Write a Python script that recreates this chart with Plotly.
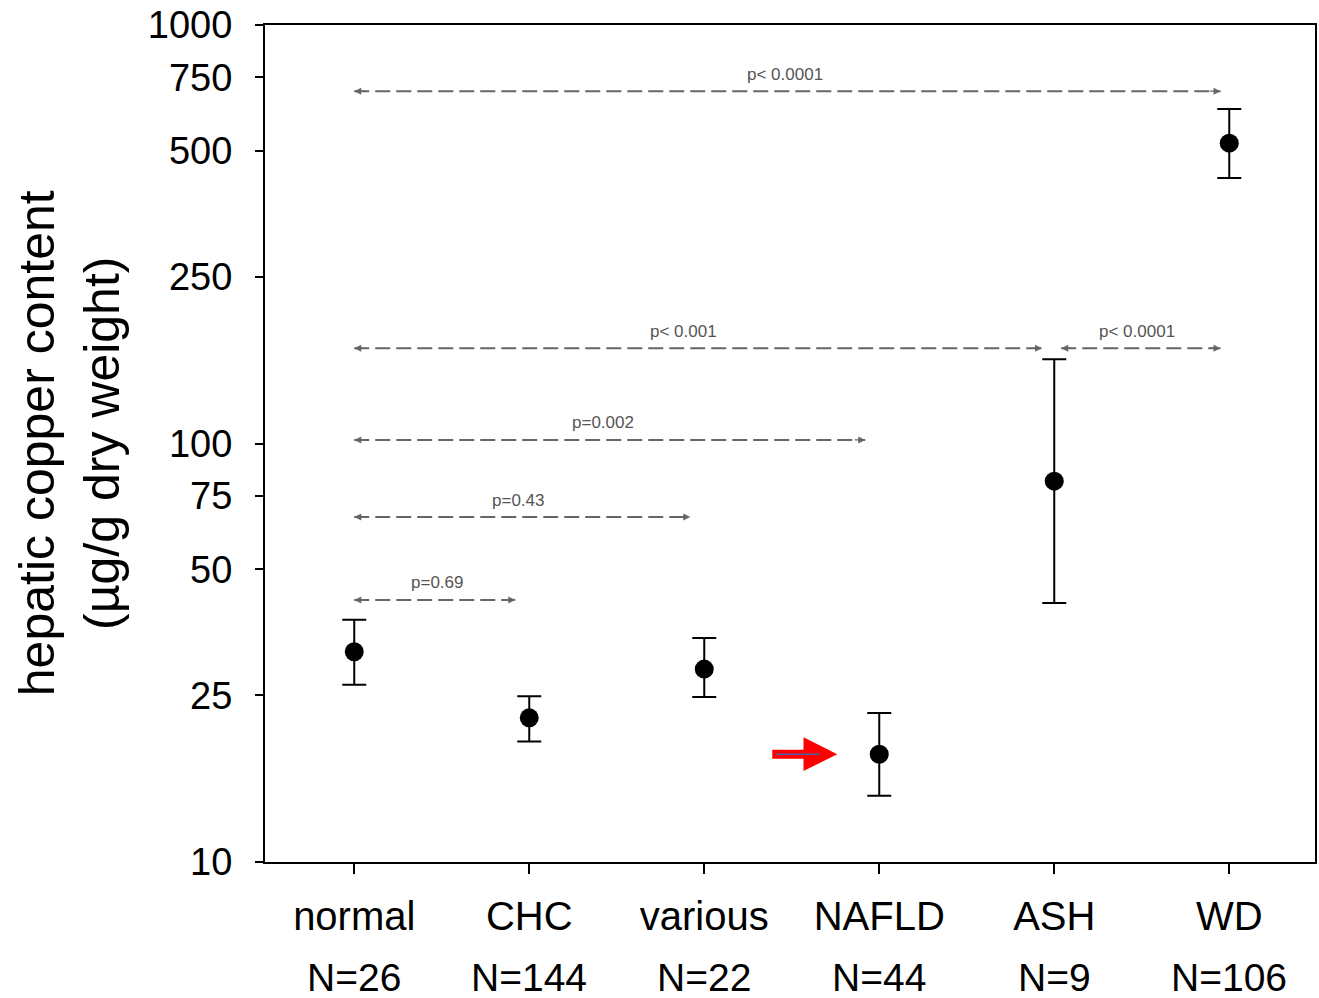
import numpy as np
import plotly.graph_objects as go

# ---- data ----
groups = ["normal", "CHC", "various", "NAFLD", "ASH", "WD"]
n_labels = ["N=26", "N=144", "N=22", "N=44", "N=9", "N=106"]
means = [31.8, 22.1, 28.9, 18.1, 81.3, 522]
upper = [37.9, 24.9, 34.3, 22.7, 159, 630]
lower = [26.5, 19.4, 24.8, 14.4, 41.6, 431]
ytick_vals = [10, 25, 50, 75, 100, 250, 500, 750, 1000]

comp_y = [695, 169, 169, 102, 66.7, 42.3]
comp_x0 = [0, 0, 4.04, 0, 0, 0]
comp_x1 = [4.95, 3.93, 4.95, 2.92, 1.92, 0.92]
comp_labels = ["p< 0.0001", "p< 0.001", "p< 0.0001", "p=0.002", "p=0.43", "p=0.69"]
comp_label_x = [2.46, 1.88, 4.47, 1.42, 0.935, 0.47]

highlight_group = "NAFLD"
highlight_from = 2.38
highlight_to = 2.76

FONT = "Liberation Sans, Arial, sans-serif"
GRAY = "#666666"

xs = list(range(len(groups)))
fig = go.Figure()

# comparison dashed lines
for x0, x1, y in zip(comp_x0, comp_x1, comp_y):
    fig.add_trace(go.Scatter(
        x=[x0, x1], y=[y, y], mode="lines",
        line=dict(color=GRAY, width=2, dash="15px,6px"),
        showlegend=False, hoverinfo="skip"))

# mean +/- error
fig.add_trace(go.Scatter(
    x=xs, y=means, mode="markers",
    marker=dict(size=19, color="black"),
    error_y=dict(type="data", symmetric=False,
                 array=[u - m for u, m in zip(upper, means)],
                 arrayminus=[m - l for m, l in zip(means, lower)],
                 color="black", thickness=2, width=12),
    showlegend=False))

annotations = []
# arrowheads and p labels
for x0, x1, y, lab, lx in zip(comp_x0, comp_x1, comp_y, comp_labels, comp_label_x):
    ly = np.log10(y)
    for xe, off in ((x0, 12), (x1, -12)):
        annotations.append(dict(x=xe, y=ly, xref="x", yref="y", text="",
                                showarrow=True, ax=off, ay=0, arrowhead=2,
                                arrowsize=1, arrowwidth=1.4, arrowcolor=GRAY))
    annotations.append(dict(x=lx, y=ly, xref="x", yref="y", text=lab,
                            showarrow=False, yshift=17,
                            font=dict(family=FONT, size=17, color="#555555")))

# N labels
for i, n in enumerate(n_labels):
    annotations.append(dict(x=i, y=-0.138, xref="x", yref="paper", text=n,
                            showarrow=False, yanchor="middle",
                            font=dict(family=FONT, size=39, color="black")))

# y title
annotations.append(dict(x=-0.186, y=0.5, xref="paper", yref="paper",
                        xanchor="center", yanchor="middle",
                        text="hepatic copper content<br>(µg/g dry weight)",
                        textangle=-90, showarrow=False,
                        font=dict(family=FONT, size=50, color="black")))

# red highlight arrow
hi = groups.index(highlight_group)
hy = np.log10(means[hi])
annotations.append(dict(x=highlight_to, y=hy, xref="x", yref="y",
                        ax=highlight_from, ay=0, axref="x", ayref="pixel",
                        text="", showarrow=True, arrowhead=2, arrowsize=0.75,
                        arrowwidth=9, arrowcolor="red"))
annotations.append(dict(x=highlight_to - 0.1, y=hy, xref="x", yref="y",
                        ax=highlight_from + 0.02, ay=0, axref="x", ayref="pixel",
                        text="", showarrow=True, arrowhead=0,
                        arrowwidth=1.5, arrowcolor="#4a5fb0"))

fig.update_layout(
    width=1319, height=998,
    margin=dict(l=265, r=2, t=25, b=136),
    paper_bgcolor="white", plot_bgcolor="white",
    font=dict(family=FONT, color="black"),
    annotations=annotations,
    showlegend=False,
)
fig.update_xaxes(
    range=[-0.51, 5.49], tickvals=xs, ticktext=groups,
    showgrid=False, zeroline=False,
    showline=True, mirror=True, linecolor="black", linewidth=2,
    ticks="outside", ticklen=10, tickwidth=2, tickcolor="black",
    tickfont=dict(family=FONT, size=40, color="black"),
    ticklabelstandoff=8, ticklabeloverflow="allow",
)
fig.update_yaxes(
    type="log", range=[1, 3], tickvals=ytick_vals,
    ticktext=[str(v) for v in ytick_vals],
    showgrid=False, zeroline=False,
    showline=True, mirror=True, linecolor="black", linewidth=2,
    ticks="outside", ticklen=8, tickwidth=2, tickcolor="black",
    tickfont=dict(family=FONT, size=38, color="black"),
    ticklabelstandoff=15, ticklabeloverflow="allow",
)

fig.write_html(
    "out.html",
    config={"displayModeBar": False},
    post_script="document.body.style.margin='0px';document.body.style.overflow='hidden';",
)
